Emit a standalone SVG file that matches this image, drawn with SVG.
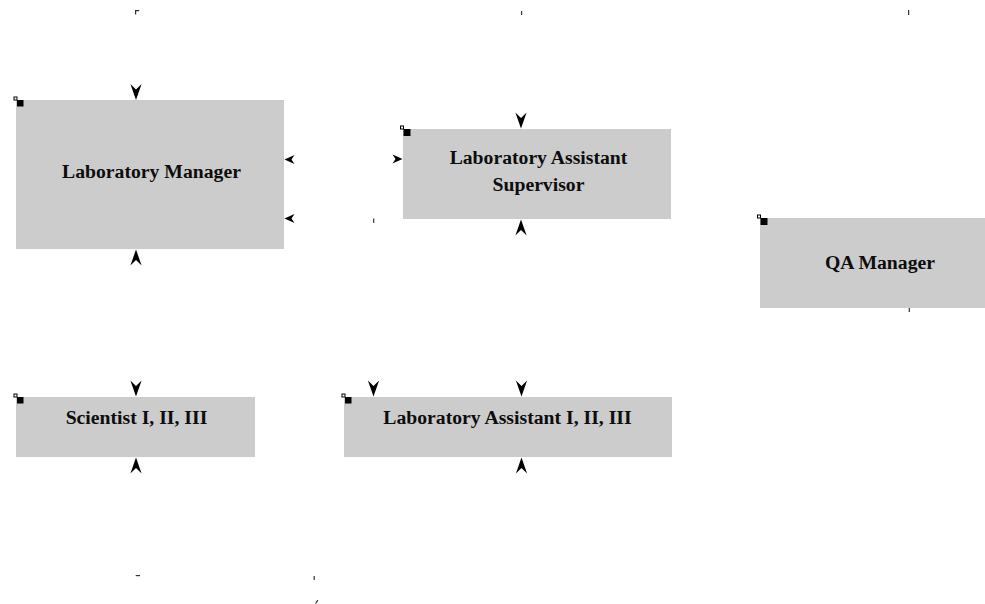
<svg xmlns="http://www.w3.org/2000/svg" width="985" height="604" viewBox="0 0 985 604">
  <style>
    .box { fill: #cccccc; }
    .label { font-family: "Liberation Serif", "Times New Roman", serif; font-weight: bold; font-size: 19.7px; fill: #0d0d0d; text-anchor: middle; }
    .handle { fill: #ffffff; stroke: #000000; stroke-width: 1; }
    .grip { fill: #000000; }
    .stub { stroke: #333333; stroke-width: 1.2; fill: none; }
    .head { fill: #000000; }
  </style>
  <defs>
    <!-- arrowheads point along +x, tip at the origin -->
    <path id="headL" d="M0,0 L-16,-5.6 L-10.5,0 L-16,5.6 Z"/>
    <path id="headS" d="M0,0 L-10,-4.6 L-7,0 L-10,4.6 Z"/>
  </defs>

  <rect width="985" height="604" fill="#ffffff"/>

  <g id="node-lab-manager">
    <rect class="box" x="16" y="100" width="268" height="149"/>
    <rect class="handle" x="14" y="97" width="3" height="3"/>
    <rect class="grip" x="17" y="100" width="6.5" height="6.5"/>
    <text class="label" x="151.5" y="178">Laboratory Manager</text>
  </g>

  <g id="node-lab-assistant-supervisor">
    <rect class="box" x="403" y="129" width="268" height="90"/>
    <rect class="handle" x="400.5" y="126" width="3" height="3"/>
    <rect class="grip" x="403.5" y="129" width="7" height="7"/>
    <text class="label" x="538.5" y="164">Laboratory Assistant</text>
    <text class="label" x="538.5" y="190.5">Supervisor</text>
  </g>

  <g id="node-qa-manager">
    <rect class="box" x="760" y="218" width="240" height="90"/>
    <rect class="handle" x="757.5" y="215" width="3" height="3"/>
    <rect class="grip" x="760.5" y="218" width="7" height="7"/>
    <text class="label" x="880" y="268.5">QA Manager</text>
  </g>

  <g id="node-scientist">
    <rect class="box" x="16" y="397" width="239" height="60"/>
    <rect class="handle" x="14" y="394" width="3" height="3"/>
    <rect class="grip" x="17" y="397" width="6.5" height="6.5"/>
    <text class="label" x="136.5" y="424">Scientist I, II, III</text>
  </g>

  <g id="node-lab-assistant">
    <rect class="box" x="344" y="397" width="328" height="60"/>
    <rect class="handle" x="342" y="394" width="3" height="3"/>
    <rect class="grip" x="345" y="397" width="6.5" height="6.5"/>
    <text class="label" x="507.5" y="424">Laboratory Assistant I, II, III</text>
  </g>

  <g id="connectors">
    <!-- downward heads onto node tops -->
    <use href="#headL" class="head" transform="translate(136,100) rotate(90)"/>
    <use href="#headL" class="head" transform="translate(521,128.5) rotate(90)"/>
    <use href="#headL" class="head" transform="translate(136,396.5) rotate(90)"/>
    <use href="#headL" class="head" transform="translate(373.5,396.5) rotate(90)"/>
    <use href="#headL" class="head" transform="translate(521.5,396.5) rotate(90)"/>
    <!-- upward heads onto node bottoms -->
    <use href="#headL" class="head" transform="translate(136,249.5) rotate(-90)"/>
    <use href="#headL" class="head" transform="translate(521,219.5) rotate(-90)"/>
    <use href="#headL" class="head" transform="translate(136,457.5) rotate(-90)"/>
    <use href="#headL" class="head" transform="translate(521.5,457.5) rotate(-90)"/>
    <!-- side heads between the manager and the supervisor -->
    <use href="#headS" class="head" transform="translate(284.5,159.5) rotate(180)"/>
    <use href="#headS" class="head" transform="translate(284.5,218.5) rotate(180)"/>
    <use href="#headS" class="head" transform="translate(402.5,159)"/>
    <!-- line ends -->
    <path class="stub" d="M135.6,14.5 V10.6 H139.2"/>
    <path class="stub" d="M521.6,11 V15"/>
    <path class="stub" d="M908.6,10 V15"/>
    <path class="stub" d="M373.7,218.5 V223"/>
    <path class="stub" d="M909.3,308 V312"/>
    <path class="stub" d="M135.7,575.6 H140"/>
    <path class="stub" d="M314.2,576 V580"/>
    <path class="stub" d="M315.6,603.5 L317.8,600.2"/>
  </g>
</svg>
